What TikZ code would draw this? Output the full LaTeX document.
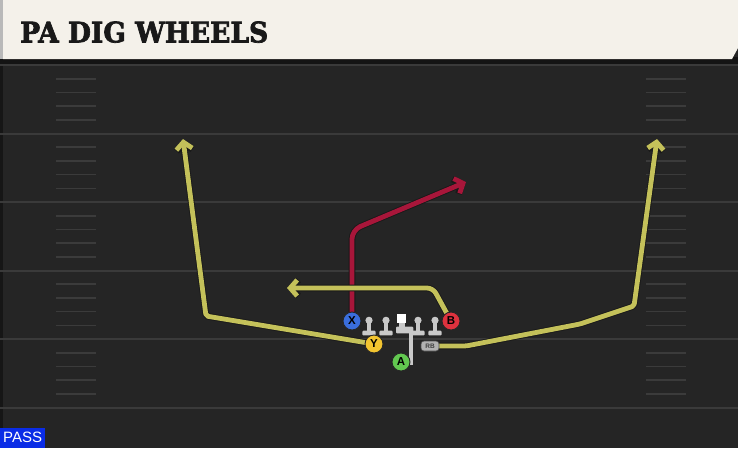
\documentclass[tikz,border=0pt]{standalone}
\usepackage{fontspec}
\usepackage{graphicx}
\setmainfont{DejaVu Sans}
\newfontfamily\titlefont{DejaVu Serif}[BoldFeatures={FakeBold=2.5}]
\newfontfamily\labfont{Liberation Sans}
\usetikzlibrary{arrows.meta}
\definecolor{fieldbg}{HTML}{252525}
\definecolor{shadowc}{HTML}{141414}
\definecolor{titlebg}{HTML}{F4F1EA}
\definecolor{yardc}{HTML}{3A3A3A}
\definecolor{hashc}{HTML}{3B3B3B}
\definecolor{routeY}{HTML}{C4C15A}
\definecolor{routeR}{HTML}{A8163A}
\definecolor{pX}{HTML}{3A6EDC}
\definecolor{pY}{HTML}{F2C430}
\definecolor{pA}{HTML}{62C850}
\definecolor{pB}{HTML}{DE323E}
\definecolor{lineg}{HTML}{C9C9C9}
\definecolor{passc}{HTML}{0A2CE6}
\pgfdeclarelayer{field}
\pgfdeclarelayer{routes}
\pgfsetlayers{field,routes,main}
\tikzset{
  yard/.style={draw=yardc, line width=2},
  hash/.style={draw=hashc, line width=1.6},
  route/.style={line width=4.8, line join=round,
    preaction={draw=black!90, line width=6.6},
    -{Straight Barb[length=7, width=16]}},
  player/.style={circle, draw=black!85, line width=0.9, minimum size=18, inner sep=0,
    font=\labfont\bfseries\fontsize{11.5}{11.5}\selectfont, text=black},
  rbtag/.style={rounded corners=3, fill=gray!60, draw=black!70, line width=0.6,
    minimum width=18, minimum height=10, inner sep=0,
    font=\labfont\bfseries\fontsize{6.5}{6.5}\selectfont, text=black!75},
  pics/lineman/.style={code={
    \fill[lineg] (-1.6,0) rectangle (1.6,11);
    \fill[lineg, rounded corners=1] (-6.7,10.7) rectangle (6.7,15.3);
    \fill[lineg] (0,0.3) circle (3.6);
  }}
}
\begin{document}
\begin{tikzpicture}[x=1pt,y=-1pt]
\useasboundingbox (0,0) rectangle (738,448);
\begin{pgfonlayer}{field}
  \fill[fieldbg] (0,0) rectangle (738,448);
  \fill[black!40!fieldbg] (0,59) rectangle (3,448);
  \foreach \n in {0,...,5} {
    \draw[yard] (0,{65+68.5*\n}) -- (738,{65+68.5*\n});
  }
  \foreach \n in {0,...,4} {
    \foreach \k in {1,...,4} {
      \draw[hash] (56,{65+68.5*\n+13.7*\k}) -- (96,{65+68.5*\n+13.7*\k});
      \draw[hash] (646,{65+68.5*\n+13.7*\k}) -- (686,{65+68.5*\n+13.7*\k});
    }
  }
  \fill[shadowc] (0,57) rectangle (738,64);
  \fill[titlebg] (3,0) -- (738,0) -- (738,48) -- (732,59) -- (3,59) -- cycle;
  \fill[gray!55] (0,0) rectangle (3,59);
\end{pgfonlayer}

\node[anchor=south west, inner sep=0, text=black!90] (title) at (20,43)
  {\resizebox{248pt}{21pt}{\titlefont\bfseries PA DIG WHEELS}};

\node[fill=passc, anchor=south west, minimum width=45, minimum height=20, inner sep=0,
  text=white, font=\labfont\fontsize{15}{15}\selectfont] (pass) at (0,448) {PASS};

% offensive line
\pic at (369,320) {lineman};
\pic at (386,320) {lineman};
\pic at (418,320) {lineman};
\pic at (435,320) {lineman};
\fill[lineg] (399,322) rectangle (405,327);
\fill[lineg, rounded corners=1] (396,326.7) rectangle (413.3,333.3);
\fill[lineg] (409.3,330) rectangle (413.3,365);
\node[fill=white, minimum size=9, inner sep=0] (C) at (401.7,318) {};

% players
\node[player, fill=pX] (X) at (352,321) {X};
\node[player, fill=pY] (Y) at (374,344) {Y};
\node[player, fill=pA] (A) at (401,362) {A};
\node[player, fill=pB] (B) at (451,321) {B};
\node[rbtag] (RB) at (430,346) {RB};

\begin{pgfonlayer}{routes}
  \draw[route, draw=routeR, rounded corners=9] (X.center) -- (352,230) -- (466,182);
  \draw[route, draw=routeY, rounded corners=6] (B.center) -- (433,288) -- (287,288);
  \draw[route, draw=routeY, rounded corners=2] (Y.center) -- (206,316) -- (183,139);
  \draw[route, draw=routeY, rounded corners=2] (RB.center) -- (466,346) -- (580,324) -- (634,306) -- (657,139);
\end{pgfonlayer}
\end{tikzpicture}
\end{document}
